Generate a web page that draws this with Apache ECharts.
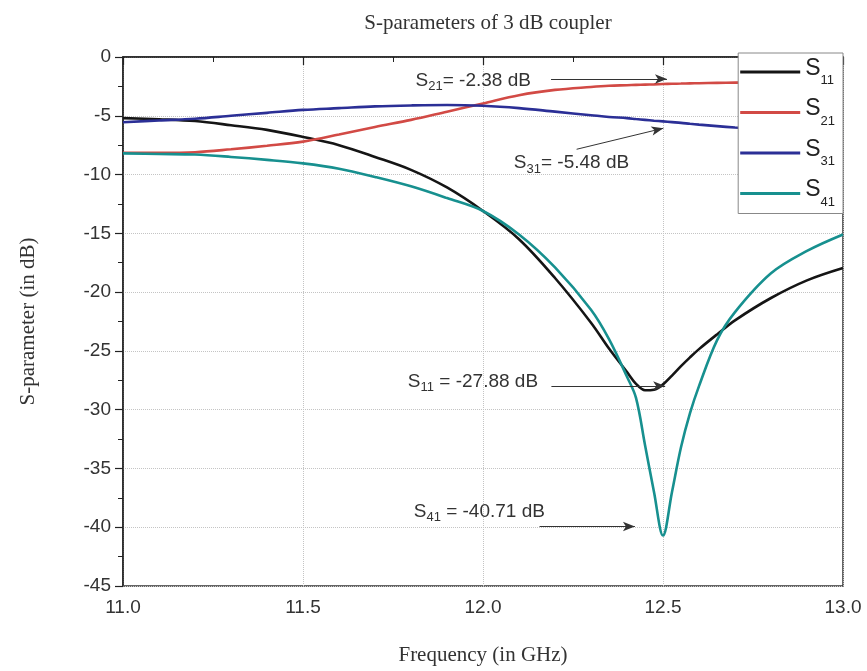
<!DOCTYPE html>
<html>
<head>
<meta charset="utf-8">
<style>
  html, body { margin: 0; padding: 0; background: #fff; }
  #chart { width: 867px; height: 671px; }
</style>
<script src="https://cdn.jsdelivr.net/npm/echarts@6/dist/echarts.min.js"></script>
</head>
<body>
<div id="chart"></div>
<script>
// frequency points in GHz
const freq = [11.0, 11.1, 11.2, 11.3, 11.4, 11.5, 11.6, 11.7, 11.8, 11.9, 12.0, 12.1, 12.2, 12.3, 12.35,
  12.4, 12.425, 12.45, 12.475, 12.5, 12.525, 12.55, 12.575, 12.6, 12.65, 12.7, 12.8, 12.9, 13.0]

const s11 = [-5.2, -5.3, -5.45, -5.8, -6.2, -6.8, -7.5, -8.5, -9.6, -11.1, -13.1, -15.5, -18.8, -22.6, -24.8,
  -26.8, -27.8, -28.35, -28.3, -27.85, -27.1, -26.3, -25.55, -24.85, -23.6, -22.4, -20.5, -19.0, -17.95]
const s21 = [-8.15, -8.15, -8.1, -7.85, -7.55, -7.2, -6.6, -5.95, -5.35, -4.65, -3.95, -3.25, -2.8, -2.55, -2.45,
  -2.4, -2.37, -2.35, -2.33, -2.3, -2.28, -2.26, -2.24, -2.23, -2.2, -2.18, -2.14, -2.1, -2.08]
const s31 = [-5.55, -5.4, -5.25, -5.0, -4.75, -4.5, -4.35, -4.2, -4.12, -4.08, -4.15, -4.35, -4.65, -4.95, -5.1,
  -5.2, -5.28, -5.35, -5.42, -5.48, -5.54, -5.6, -5.68, -5.75, -5.88, -6.0, -6.2, -6.4, -6.6]
const s41 = [-8.2, -8.25, -8.3, -8.5, -8.75, -9.05, -9.5, -10.2, -11.0, -12.0, -13.1, -15.1, -17.9, -21.5, -24.0,
  -27.2, -29.0, -33.0, -37.0, -40.71, -37.0, -33.2, -30.3, -28.0, -24.1, -21.7, -18.4, -16.5, -15.1]

// annotation texts: [subscript, text, x, y] (text ends at x,y)
const notes = [
  ['21', '= -2.38 dB', 12.133, -1.87],
  ['31', '= -5.48 dB', 12.406, -8.9],
  ['11', ' = -27.88 dB', 12.153, -27.47],
  ['41', ' = -40.71 dB', 12.172, -38.52]
]
// arrows: [x1, y1, x2, y2]
const arrows = [
  [12.189, -1.87, 12.511, -1.87],
  [12.26, -7.85, 12.501, -6.06],
  [12.19, -27.98, 12.506, -27.98],
  [12.157, -39.94, 12.422, -39.94]
]

const names = ['S11', 'S21', 'S31', 'S41']
const colors = ['#151515', '#d24a45', '#2b2f96', '#17908f']
const values = [s11, s21, s31, s41]

const chart = echarts.init(document.getElementById('chart'))

const serif = '"Liberation Serif", "Times New Roman", serif'
const sans = '"Liberation Sans", Arial, sans-serif'

const noteRich = {
  s: { fontSize: 19, fontFamily: sans, color: '#333', lineHeight: 22, verticalAlign: 'top' },
  sub: { fontSize: 13, fontFamily: sans, color: '#333', lineHeight: 13, padding: [14, 0, 0, 0], verticalAlign: 'bottom' }
}

const series = names.map((n, i) => ({
  name: n,
  type: 'line',
  data: freq.map((f, k) => [f, values[i][k]]),
  smooth: 0.35,
  symbol: 'none',
  lineStyle: { color: colors[i], width: 2.6 },
  itemStyle: { color: colors[i] },
  z: 3,
  animation: false
}))

series[0].markLine = {
  silent: true,
  animation: false,
  symbol: ['none', 'arrow'],
  symbolSize: [7, 12],
  label: { show: false },
  lineStyle: { color: '#333', width: 1, type: 'solid' },
  data: arrows.map(a => [{ coord: [a[0], a[1]] }, { coord: [a[2], a[3]] }])
}
series[0].markPoint = {
  silent: true,
  animation: false,
  symbol: 'circle',
  symbolSize: 0,
  label: {
    show: true,
    position: [0, 0],
    align: 'right',
    verticalAlign: 'middle',
    offset: [0, 3],
    rich: noteRich
  },
  data: notes.map(t => ({
    coord: [t[2], t[3]],
    label: { formatter: '{s|S}{sub|' + t[0] + '}{s|' + t[1] + '}' }
  }))
}

chart.setOption({
  backgroundColor: '#fff',
  title: {
    text: 'S-parameters of 3 dB coupler',
    left: 483,
    textAlign: 'center',
    top: 8,
    textStyle: { fontFamily: serif, fontWeight: 'normal', fontSize: 21, color: '#333' }
  },
  legend: {
    orient: 'vertical',
    right: 24,
    top: 53,
    padding: [0, 8, 5, 2],
    icon: 'rect',
    itemWidth: 60,
    itemHeight: 3,
    itemGap: 6.5,
    backgroundColor: '#fff',
    borderColor: '#888',
    borderWidth: 1,
    borderRadius: 0,
    data: names,
    formatter: n => '{s|S}{sub|' + n.slice(1) + '}',
    textStyle: {
      rich: {
        s: { fontSize: 23, fontFamily: sans, color: '#222', lineHeight: 30, verticalAlign: 'top' },
        sub: { fontSize: 13, fontFamily: sans, color: '#222', lineHeight: 13, padding: [21, 0, 0, 0], verticalAlign: 'bottom' }
      }
    }
  },
  grid: {
    left: 123,
    right: 24,
    top: 57,
    bottom: 85,
    show: true,
    borderColor: '#333',
    borderWidth: 1.5
  },
  xAxis: {
    type: 'value',
    min: 11,
    max: 13,
    interval: 0.5,
    name: 'Frequency (in GHz)',
    nameLocation: 'middle',
    nameGap: 59,
    nameTextStyle: { fontFamily: serif, fontSize: 21, color: '#333' },
    axisLine: { lineStyle: { color: '#222', width: 1.5 } },
    axisTick: { inside: false, length: 8, lineStyle: { color: '#222', width: 1.2 } },
    minorTick: { show: true, splitNumber: 2, length: 5, lineStyle: { color: '#222', width: 1 } },
    axisLabel: {
      margin: 12,
      fontFamily: sans,
      fontSize: 19,
      color: '#333',
      formatter: v => v.toFixed(1)
    },
    splitLine: { show: true, lineStyle: { color: '#c4c4c4', type: 'dotted', width: 1 } }
  },
  yAxis: {
    type: 'value',
    min: -45,
    max: 0,
    interval: 5,
    name: 'S-parameter (in dB)',
    nameLocation: 'middle',
    nameGap: 84,
    nameTextStyle: { fontFamily: serif, fontSize: 21, color: '#333' },
    axisLine: { show: true, lineStyle: { color: '#222', width: 1.5 } },
    axisTick: { show: true, inside: false, length: 8, lineStyle: { color: '#222', width: 1.2 } },
    minorTick: { show: true, splitNumber: 2, length: 5, lineStyle: { color: '#222', width: 1 } },
    axisLabel: { margin: 12, fontFamily: sans, fontSize: 19, color: '#333' },
    splitLine: { show: true, lineStyle: { color: '#c4c4c4', type: 'dotted', width: 1 } }
  },
  series: series
})
</script>
</body>
</html>
